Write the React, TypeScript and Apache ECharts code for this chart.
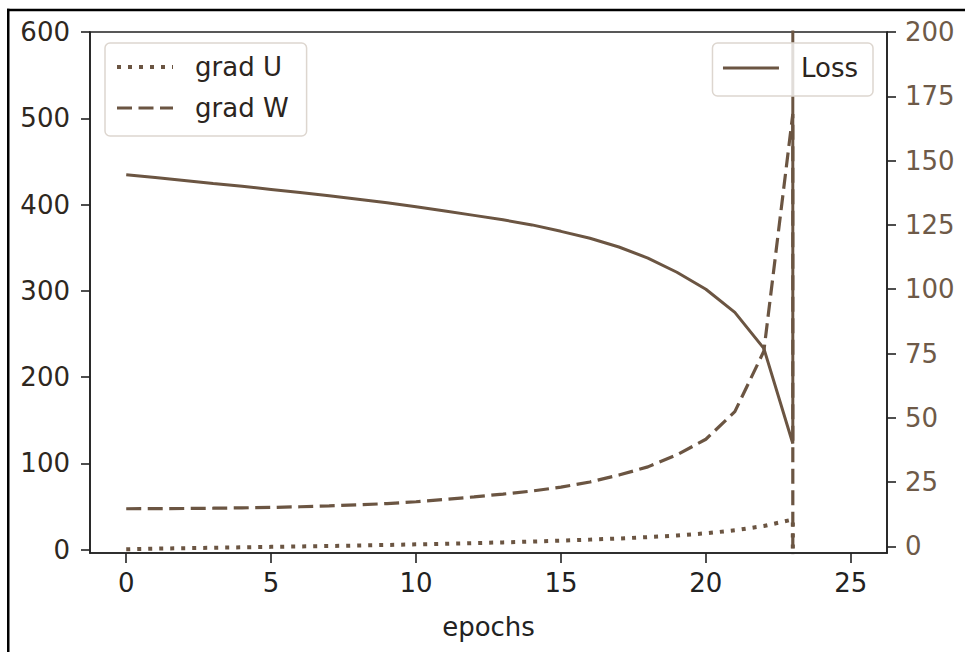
import { useEffect, useRef } from "react";
import * as echarts from "echarts";

// epochs (the last epoch is repeated: the run diverges at epoch 23)
const epochs = [0, 1, 2, 3, 4, 5, 6, 7, 8, 9, 10, 11, 12, 13, 14, 15, 16, 17, 18, 19, 20, 21, 22, 23, 23];
const gradU = [0.5, 1.2, 1.8, 2.3, 2.8, 3.3, 3.8, 4.3, 4.9, 5.5, 6.2, 6.9, 7.7, 8.5, 9.4, 10.5, 11.7, 13.0, 14.6, 16.5, 19.0, 22.5, 27.5, 35, -100];
const gradW = [47.5, 47.6, 47.8, 48.1, 48.5, 49.0, 49.8, 50.8, 52.0, 53.5, 55.6, 58.3, 61.2, 64.5, 68.0, 72.5, 78.5, 86.5, 96, 110, 128, 160, 230, 505, -100];
const loss = [144.5, 143.4, 142.3, 141.1, 140.0, 138.8, 137.6, 136.3, 135.0, 133.6, 132.1, 130.4, 128.7, 127.0, 125.0, 122.5, 119.8, 116.4, 112.1, 106.6, 100.0, 91.0, 77.0, 40.0, 1000];

const xTicks = [0, 5, 10, 15, 20, 25];
const leftTicks = [0, 100, 200, 300, 400, 500, 600];
const rightTicks = [0, 25, 50, 75, 100, 125, 150, 175, 200];

const LINE = "#6b5542";
const FONT = "DejaVu Sans";
const FS = 26;

const U_STYLE = { color: LINE, width: 4, type: [4, 7], cap: "butt" };
const W_STYLE = { color: LINE, width: 3.2, type: [15, 6.5], cap: "butt" };
const L_STYLE = { color: LINE, width: 3 };

const pairs = (ys: number[]) => ys.map((y, i) => [epochs[i], y]);

export default function App() {
  const ref = useRef<HTMLDivElement>(null);
  useEffect(() => {
    const chart = echarts.init(ref.current!, null, { renderer: "svg" });
    const axisLine = { show: true, onZero: false, lineStyle: { color: "#222", width: 1.6 } };
    const legendCommon = {
      itemWidth: 56,
      itemHeight: 14,
      backgroundColor: "rgba(255,255,255,0.8)",
      borderColor: "#ddd6cf",
      borderWidth: 1.5,
      borderRadius: 5,
      itemStyle: { opacity: 0 },
      textStyle: { fontSize: FS, color: "#2b2520", fontFamily: FONT, padding: [0, 0, 0, 17], lineHeight: 30 },
    };
    chart.setOption({
      animation: false,
      backgroundColor: "#fff",
      textStyle: { fontFamily: FONT },
      grid: {
        left: 90,
        right: 78,
        top: 32,
        bottom: 99,
        show: true,
        borderColor: "#222",
        borderWidth: 1.6,
        backgroundColor: "transparent",
      },
      xAxis: {
        type: "value",
        min: -1.25,
        max: 26.25,
        name: "epochs",
        nameLocation: "middle",
        nameGap: 61,
        nameTextStyle: { fontSize: FS, color: "#222", fontFamily: FONT },
        axisLine,
        axisTick: { show: true, length: 10, lineStyle: { color: "#222", width: 1.6 }, customValues: xTicks },
        axisLabel: { fontSize: FS, color: "#222", margin: 17, fontFamily: FONT, customValues: xTicks },
        splitLine: { show: false },
      },
      yAxis: [
        {
          type: "value",
          position: "left",
          min: -3.8,
          max: 600,
          axisLine,
          axisTick: { show: true, length: 9, lineStyle: { color: "#222", width: 1.6 }, customValues: leftTicks },
          axisLabel: { fontSize: FS, color: "#2e2720", margin: 20, fontFamily: FONT, customValues: leftTicks },
          splitLine: { show: false },
        },
        {
          type: "value",
          position: "right",
          min: -2.56,
          max: 200,
          axisLine,
          axisTick: { show: true, length: 9, lineStyle: { color: "#222", width: 1.6 }, customValues: rightTicks },
          axisLabel: { fontSize: FS, color: "#6e5a48", margin: 18, fontFamily: FONT, customValues: rightTicks },
          splitLine: { show: false },
        },
      ],
      legend: [
        {
          ...legendCommon,
          data: [
            { name: "grad U", lineStyle: U_STYLE },
            { name: "grad W", lineStyle: W_STYLE },
          ],
          orient: "vertical",
          left: 105,
          top: 43,
          itemGap: 11,
          padding: [9, 18, 13, 10],
        },
        {
          ...legendCommon,
          data: [{ name: "Loss", lineStyle: L_STYLE }],
          right: 92,
          top: 43,
          padding: [10, 15, 13, 9],
        },
      ],
      graphic: [
        { type: "rect", shape: { x: 7, y: 8.7, width: 958, height: 2.5 }, style: { fill: "#000" }, z: 100 },
        { type: "rect", shape: { x: 7, y: 8.7, width: 2.5, height: 645 }, style: { fill: "#000" }, z: 100 },
      ],
      series: [
        {
          name: "grad U",
          type: "line",
          yAxisIndex: 0,
          symbol: "none",
          clip: true,
          data: pairs(gradU),
          lineStyle: U_STYLE,
          itemStyle: { color: LINE },
        },
        {
          name: "grad W",
          type: "line",
          yAxisIndex: 0,
          symbol: "none",
          clip: true,
          data: pairs(gradW),
          lineStyle: W_STYLE,
          itemStyle: { color: LINE },
        },
        {
          name: "Loss",
          type: "line",
          yAxisIndex: 1,
          symbol: "none",
          clip: true,
          data: pairs(loss),
          lineStyle: L_STYLE,
          itemStyle: { color: LINE },
        },
      ],
    });
    return () => chart.dispose();
  }, []);
  return (
    <div
      ref={ref}
      style={{ position: "fixed", left: 0, top: 0, width: 965, height: 652, background: "#fff" }}
    />
  );
}
